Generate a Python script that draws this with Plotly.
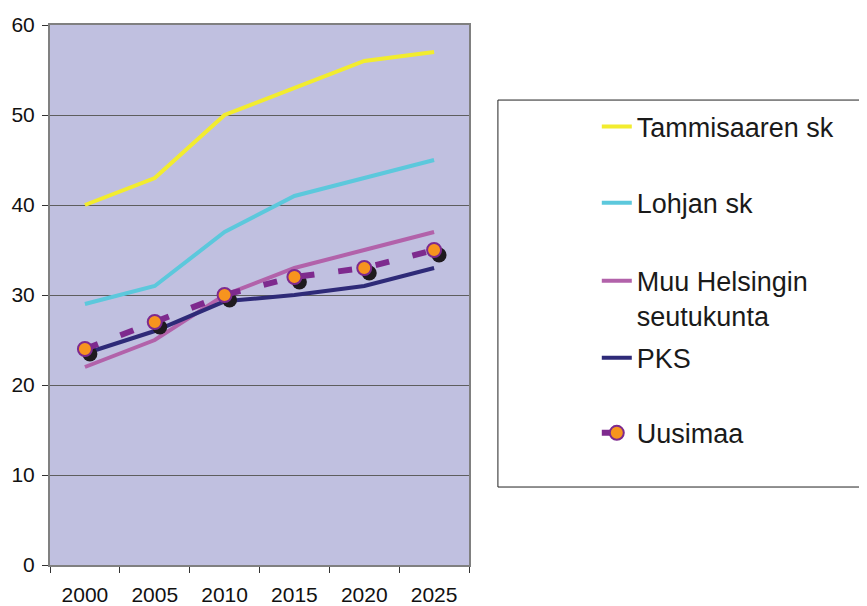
import plotly.graph_objects as go

years = ["2000", "2005", "2010", "2015", "2020", "2025"]
tammisaari = [40, 43, 50, 53, 56, 57]
lohja = [29, 31, 37, 41, 43, 45]
muu_helsinki = [22, 25, 30, 33, 35, 37]
pks = [23.5, 26, 29.3, 30, 31, 33]
uusimaa = [24, 27, 30, 32, 33, 35]

FONT = "Liberation Sans, Arial, sans-serif"
fig = go.Figure()

lines = [
    ("Tammisaaren sk", tammisaari, "#F2EC2E", "legend"),
    ("Lohjan sk", lohja, "#5CC8DC", "legend2"),
    ("Muu Helsingin<br>seutukunta", muu_helsinki, "#B262AA", "legend3"),
    ("PKS", pks, "#2E2A78", "legend4"),
]
for name, vals, col, leg in lines:
    fig.add_trace(go.Scatter(x=years, y=vals, name=name, mode="lines",
                             line=dict(color=col, width=4), legend=leg))

# shadow of the Uusimaa markers, drawn on a slightly shifted hidden axis pair
fig.add_trace(go.Scatter(x=years, y=uusimaa, mode="markers", showlegend=False,
                         marker=dict(size=15, color="#1E1A1E"),
                         xaxis="x2", yaxis="y2", hoverinfo="skip"))
fig.add_trace(go.Scatter(x=years, y=uusimaa, name="Uusimaa", mode="lines+markers",
                         line=dict(color="#7E2A8E", width=6, dash="14px,24px"),
                         marker=dict(size=14, color="#F7941E", line=dict(color="#7E2A8E", width=2)),
                         xaxis="x3", yaxis="y3", legend="legend5"))

axis_common = dict(linecolor="#808080", linewidth=2, mirror=True, showline=True, automargin=False)
shift_x = 5 / 70
shift_y = 5 / 9
# page body adds an 8px offset, so the figure is a little smaller than the window
fig.update_layout(
    width=859, height=598,
    margin=dict(l=42, r=398, t=17, b=41),
    paper_bgcolor="white", plot_bgcolor="#C0C0E0",
    font=dict(family=FONT, size=21, color="#111"),
    xaxis=dict(type="category", range=[-0.5, 5.5], ticks="outside", tickson="boundaries",
               ticklen=6, tickcolor="#333", showgrid=False, ticklabelstandoff=10, **axis_common),
    yaxis=dict(range=[0, 60], dtick=10, ticks="outside", ticklen=6, tickcolor="#333",
               gridcolor="#5E5E5E", gridwidth=1, zeroline=False, ticklabelstandoff=3, **axis_common),
    xaxis2=dict(type="category", overlaying="x", range=[-0.5 - shift_x, 5.5 - shift_x], visible=False),
    yaxis2=dict(overlaying="y", range=[shift_y, 60 + shift_y], visible=False),
    xaxis3=dict(type="category", overlaying="x", range=[-0.5, 5.5], visible=False),
    yaxis3=dict(overlaying="y", range=[0, 60], visible=False),
    showlegend=True,
)

leg_font = dict(family=FONT, size=27, color="#1A1A1A")
leg_x = 1.305
leg_pos = {"legend": 0.811, "legend2": 0.670, "legend3": 0.571, "legend4": 0.383, "legend5": 0.244}
for leg, y in leg_pos.items():
    anchor = "top" if leg == "legend3" else "middle"
    fig.update_layout({leg: dict(x=leg_x, y=y, xanchor="left", yanchor=anchor, font=leg_font,
                                 bgcolor="rgba(0,0,0,0)", borderwidth=0, valign="top")})

# legend frame
fig.add_shape(type="rect", xref="paper", yref="paper", x0=1.069, x1=1.96, y0=0.1444, y1=0.861,
              line=dict(color="#222", width=1), fillcolor="rgba(0,0,0,0)")

fig.write_html("out.html")
